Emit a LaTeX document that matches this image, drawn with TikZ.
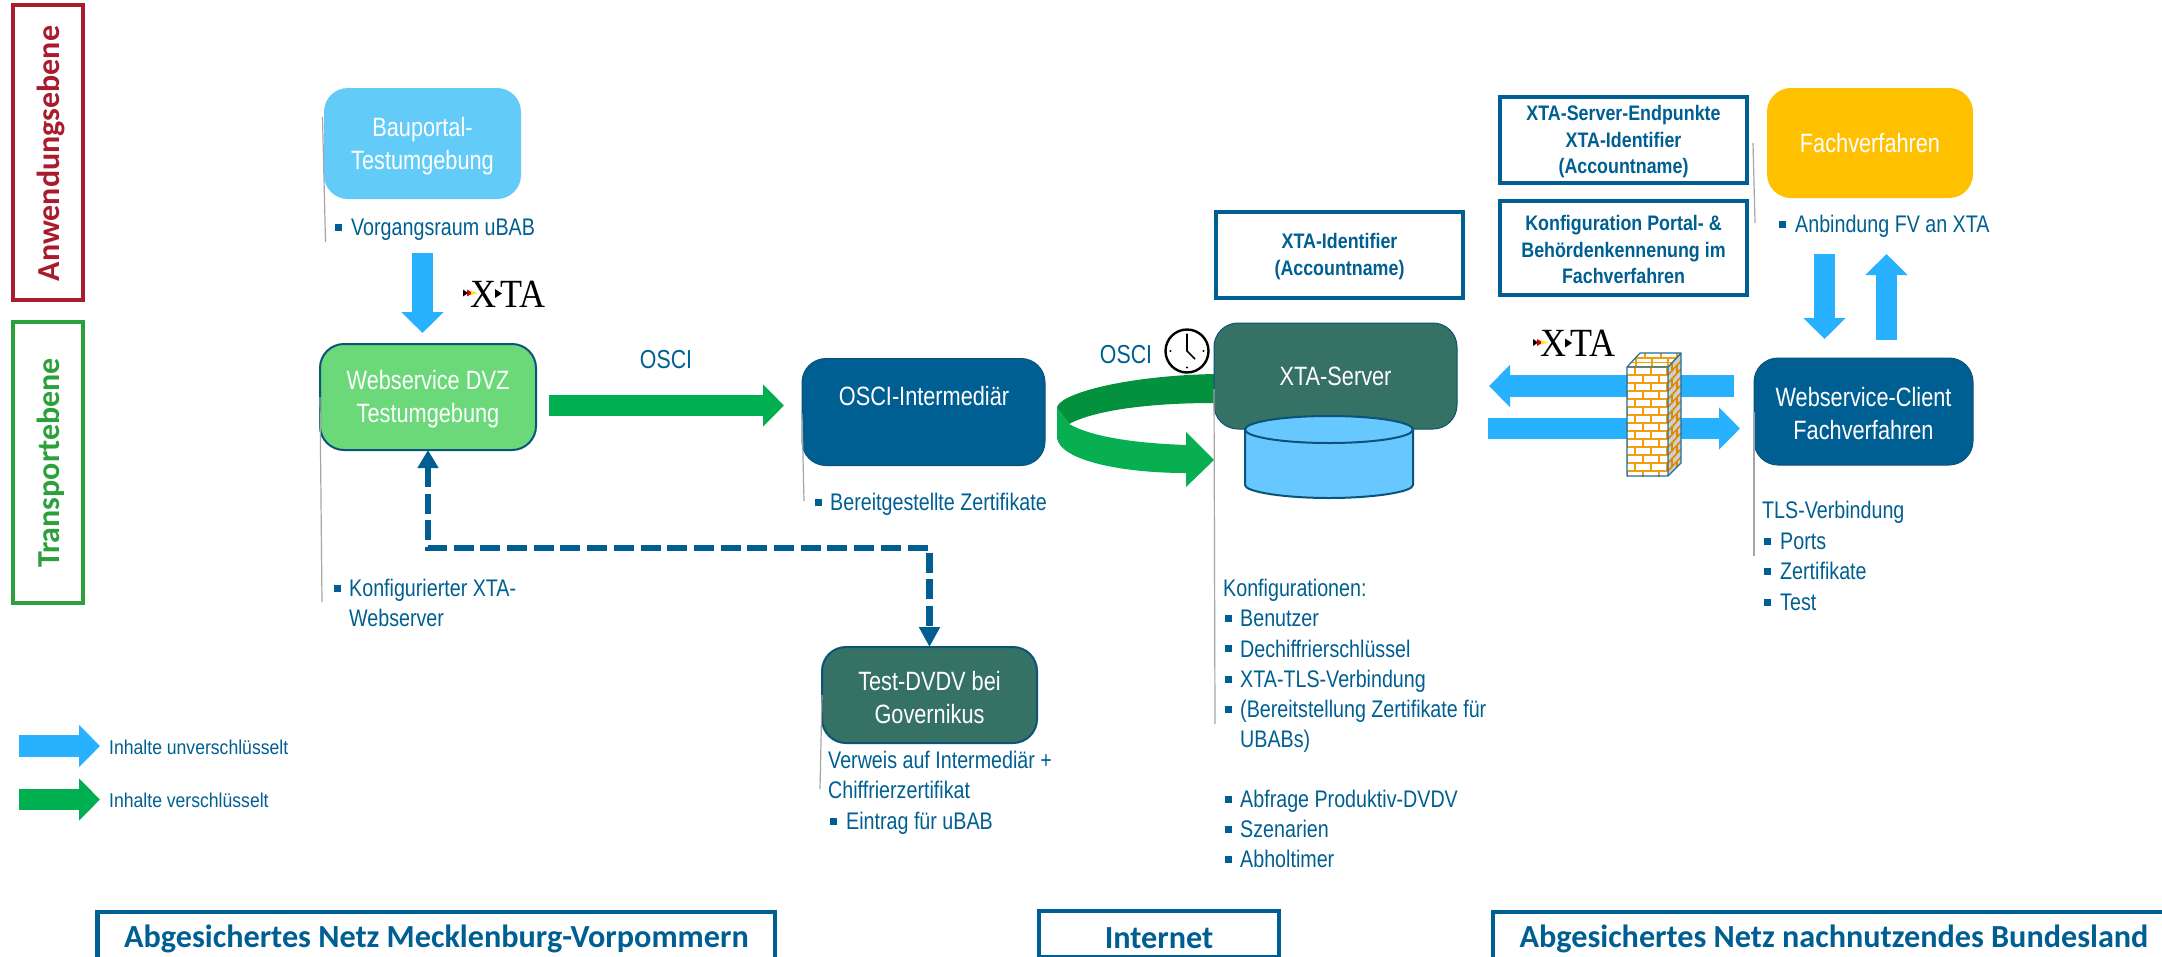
\documentclass[tikz,border=0pt]{standalone}
\usepackage{fontspec}
\usetikzlibrary{arrows.meta,calc}
\setmainfont{Liberation Sans}
\newfontfamily\bodyf[FakeStretch=0.82]{Liberation Sans}
\newfontfamily\labf[FakeStretch=0.85]{Liberation Sans}
\newfontfamily\legf[FakeStretch=0.88]{Liberation Sans}
\newfontfamily\calb{Carlito}
\newfontfamily\xtaf[FakeStretch=0.9]{Liberation Serif}
\definecolor{navy}{HTML}{005F92}
\definecolor{edgeblue}{HTML}{0B5378}
\definecolor{teal}{HTML}{357165}
\definecolor{skyb}{HTML}{63CBF8}
\definecolor{leaf}{HTML}{6BD97A}
\definecolor{amber}{HTML}{FFC000}
\definecolor{arrowblue}{HTML}{28B1FF}
\definecolor{arrowgreen}{HTML}{00B050}
\definecolor{darkgreen}{HTML}{04913E}
\definecolor{lightgreen}{HTML}{07AF50}
\definecolor{cylblue}{HTML}{66C8FF}
\definecolor{calred}{HTML}{A91C2E}
\definecolor{calgreen}{HTML}{2CA03A}
\definecolor{greyline}{HTML}{A6A6A6}
\definecolor{brick}{HTML}{F59E0B}
\definecolor{brickd}{HTML}{D98A00}
\definecolor{wallgrey}{HTML}{CFCFCF}
\definecolor{walledge}{HTML}{1F6E9E}
\newcommand\boxfix{\rule{0pt}{23.5pt}}
\newcommand\notefix{\rule{0pt}{18.5pt}}
\tikzset{
  box/.style={rounded corners=24pt,inner sep=0pt,outer sep=0pt,align=center,text=white,
    font=\bodyf\fontsize{26.5}{33}\selectfont},
  notebox/.style={draw=navy,line width=3.5pt,fill=white,inner sep=0pt,outer sep=0pt,align=center,text=navy,
    font=\labf\bfseries\fontsize{21}{26.5}\selectfont},
  netbox/.style={draw=navy,line width=4.5pt,fill=white,inner sep=0pt,outer sep=0pt},
  nettext/.style={inner sep=0pt,text=navy,font=\calb\bfseries\fontsize{32.2}{36}\selectfont},
  levelbox/.style={line width=4pt,fill=white,inner sep=0pt,outer sep=0pt},
  leveltext/.style={inner sep=0pt,rotate=90,font=\calb\bfseries\fontsize{32}{36}\selectfont},
  bluearrow/.style={draw=arrowblue,line width=21.5pt,-{Triangle[length=21pt,width=41pt]}},
  greenarrow/.style={draw=arrowgreen,line width=21.5pt,-{Triangle[length=21pt,width=41pt]}},
  dashconn/.style={draw=navy,line width=6.5pt,dash pattern=on 20pt off 6.7pt,{Triangle[length=18pt,width=20pt]}-{Triangle[length=20pt,width=20pt]}},
  callout/.style={draw=greyline,line width=1.2pt},
  bodytext/.style={inner sep=0pt,anchor=base west,text=navy,font=\bodyf\fontsize{24}{30}\selectfont},
  legendtext/.style={inner sep=0pt,anchor=west,text=navy,font=\legf\fontsize{20}{24}\selectfont},
  osci/.style={inner sep=0pt,text=navy,font=\bodyf\fontsize{26}{30}\selectfont},
  bulletmark/.style={fill=navy,inner sep=0pt,minimum size=7pt},
  pics/xtalogo/.style={code={
    \fill[black] (0,9.5) -- (5,13) -- (0,16.5) -- cycle;
    \fill[red!80!black] (4,9.5) -- (10,13) -- (4,16.5) -- cycle;
    \fill[yellow!90!orange] (8,11) -- (15,13) -- (8,15) -- cycle;
    \node[inner sep=0pt,anchor=base,font=\xtaf\fontsize{40}{40}\selectfont] (-x) at (20,27) {X};
    \fill[black] (32,9) -- (39,13.5) -- (32,18) -- cycle;
    \node[inner sep=0pt,anchor=base,font=\xtaf\fontsize{40}{40}\selectfont] (-t) at (60,27) {TA};
  }}
}
% name, bullet x, text x, centre y, text
\newcommand\bulleted[5]{%
  \node[bulletmark] (#1m) at (#2,#4) {};
  \node[bodytext] (#1) at (#3,#4+8.5) {#5};
}
\begin{document}
\begin{tikzpicture}[x=1pt,y=-1pt]
\path[use as bounding box,clip] (0,0) rectangle (2162,956);
\fill[white] (0,0) rectangle (2162,956);

% level boxes
\node[levelbox,draw=calred,minimum width=70pt,minimum height=295pt] (lvlapp) at (48,152.5) {};
\node[leveltext,text=calred] (lvlapptext) at (51,153.5) {Anwendungsebene};
\node[levelbox,draw=calgreen,minimum width=70pt,minimum height=281pt] (lvltra) at (48,462.5) {};
\node[leveltext,text=calgreen] (lvltratext) at (51,463) {Transportebene};

% curved OSCI arrow
\fill[darkgreen] (1214,374) .. controls (1120,376) and (1057,395) .. (1057,408) -- (1069,424)
  .. controls (1095,410) and (1150,403) .. (1214,403) -- cycle;
\fill[lightgreen] (1057,408) -- (1057,438) .. controls (1060,460) and (1120,473) .. (1186,473)
  -- (1186,487) -- (1214,460) -- (1186,432) -- (1186,445)
  .. controls (1130,443) and (1090,436) .. (1069,424) -- cycle;

% main boxes
\node[box,fill=skyb,minimum width=197pt,minimum height=111pt] (bau) at (422.5,143.5) {\boxfix Bauportal-\\Testumgebung};
\node[box,fill=leaf,draw=edgeblue,line width=2pt,minimum width=216pt,minimum height=106pt] (dvz) at (428,397) {\boxfix Webservice DVZ\\Testumgebung};
\node[box,fill=navy,draw=edgeblue,line width=1pt,minimum width=243pt,minimum height=107pt] (intermed) at (923.5,412) {};
\node[box,inner sep=0pt] (intermedtext) at (924,396) {OSCI-Intermediär};
\node[box,fill=teal,draw=edgeblue,line width=2pt,minimum width=215pt,minimum height=96pt] (test) at (929.5,695) {\boxfix Test-DVDV bei\\Governikus};
\node[box,fill=teal,draw=edgeblue,line width=1pt,minimum width=243pt,minimum height=106pt] (server) at (1335.5,376) {XTA-Server};
\node[box,fill=amber,minimum width=206pt,minimum height=110pt] (fach) at (1870,143) {Fachverfahren};
\node[box,fill=navy,draw=edgeblue,line width=1pt,minimum width=219pt,minimum height=107pt] (client) at (1863.5,411.5) {\boxfix Webservice-Client\\Fachverfahren};

% cylinder
\draw[fill=cylblue,draw=edgeblue,line width=2pt] (1245,429.5) -- (1245,485)
  .. controls (1245,492) and (1285,498) .. (1329,498) .. controls (1373,498) and (1413,492) .. (1413,485)
  -- (1413,429.5);
\draw[fill=cylblue,draw=edgeblue,line width=2pt] (1329,429.5) ellipse [x radius=84,y radius=13.5];

% notes
\node[notebox,minimum width=247pt,minimum height=86pt] (noteid) at (1339.5,255) {\notefix XTA-Identifier\\(Accountname)};
\node[notebox,minimum width=247pt,minimum height=86pt] (noteend) at (1623.5,140) {\notefix XTA-Server-Endpunkte\\XTA-Identifier\\(Accountname)};
\node[notebox,minimum width=247pt,minimum height=94pt] (noteconf) at (1623.5,248) {\notefix Konfiguration Portal- \&\\Behördenkennenung im\\Fachverfahren};

% arrows
\draw[bluearrow,shorten <=54pt,shorten >=11pt] (bau.south) -- (bau.south |- dvz.north);
\draw[greenarrow,shorten <=13pt,shorten >=18pt] ([yshift=-8.5pt]dvz.east) -- ([yshift=6.5pt]intermed.west);
\draw[dashconn] (dvz.south) -- (dvz.south |- 0,548) -- (test.north |- 0,548) -- (test.north);
\draw[bluearrow,shorten <=20pt,shorten >=32pt] ([yshift=25.5pt]client.west) -- ([yshift=-10pt]server.east);
\draw[bluearrow,shorten <=31pt,shorten >=14pt] ([yshift=-52.5pt]server.east) -- ([yshift=-17pt]client.west);
\draw[bluearrow,shorten <=56pt,shorten >=19pt] ([xshift=-45.5pt]fach.south) -- ([xshift=-39pt]client.north);
\draw[bluearrow,shorten <=18pt,shorten >=56pt] ([xshift=23pt]client.north) -- ([xshift=16.5pt]fach.south);

% firewall
\fill[white] (1627,367) rectangle (1668,476);
\begin{scope}
  \clip (1627,367) rectangle (1668,476);
  \foreach \r in {0,...,13}{
    \draw[brick,line width=1.8pt] (1627,367+8*\r) -- (1668,367+8*\r);
    \pgfmathsetmacro\off{mod(\r,2)==0 ? 8 : 0}
    \foreach \k in {-1,...,3}{
      \draw[brick,line width=1.8pt] (1627+\off+16*\k,367+8*\r) -- (1627+\off+16*\k,375+8*\r);
    }
  }
\end{scope}
\fill[wallgrey] (1668,367) -- (1681,353) -- (1681,463) -- (1668,476) -- cycle;
\begin{scope}
  \clip (1668,367) -- (1681,353) -- (1681,463) -- (1668,476) -- cycle;
  \foreach \r in {-1,...,13}{
    \draw[brickd,line width=1.6pt] (1668,367+8*\r) -- (1681,353+8*\r);
  }
  \foreach \r in {-1,...,13}{
    \pgfmathsetmacro\off{mod(\r,2)==0 ? 4 : 9}
    \draw[brickd,line width=1.6pt] (1668+\off,367+8*\r-\off*14/13) -- (1668+\off,375+8*\r-\off*14/13);
  }
\end{scope}
\fill[white] (1627,367) -- (1640,353) -- (1681,353) -- (1668,367) -- cycle;
\begin{scope}
  \clip (1627,367) -- (1640,353) -- (1681,353) -- (1668,367) -- cycle;
  \foreach \yy in {358,362.5,367}{
    \draw[brick,line width=1.4pt] (1625,\yy) -- (1685,\yy);
  }
  \foreach \xx in {1645,1661,1677}{\draw[brick,line width=1.4pt] (\xx,353) -- (\xx,358);}
  \foreach \xx in {1636,1652,1668}{\draw[brick,line width=1.4pt] (\xx,358) -- (\xx,367);}
\end{scope}
\draw[walledge,line width=1.2pt,line join=round] (1627,367) rectangle (1668,476)
  (1627,367) -- (1640,353) -- (1681,353) -- (1668,367)
  (1681,353) -- (1681,463) -- (1668,476);

% logos
\pic (logoa) at (463,280) {xtalogo};
\pic (logob) at (1533,329.5) {xtalogo};

% clock
\draw[fill=white,draw=black,line width=2.4pt] (1187,351) circle [radius=21.5];
\draw[black,line width=1.6pt] (1187,335) -- (1187,351) -- (1195,359);
\foreach \a in {0,90,180,270}{\fill[black] ($(1187,351)+(\a:16.5)$) circle [radius=1.1];}

% OSCI
\node[osci] (oscia) at (666,360) {OSCI};
\node[osci] (oscib) at (1126,355) {OSCI};

% call-out rules
\draw[callout] (322.5,117) -- (325.5,242);
\draw[callout] (320,397) -- (322,602);
\draw[callout] (802,414) -- (804,501);
\draw[callout] (1214,389) -- (1215,724);
\draw[callout] (1754,412) -- (1754,556);
\draw[callout] (1753,143) -- (1755,223);
\draw[callout] (822,695) -- (820,789);

% body texts
\bulleted{tvorg}{338}{351}{227}{Vorgangsraum uBAB}
\bulleted{tkonf}{337}{349}{588}{Konfigurierter XTA-}
\node[bodytext] (tweb) at (349,626.5) {Webserver};
\bulleted{tber}{818}{830}{502}{Bereitgestellte Zertifikate}
\node[bodytext] (tverw) at (828,768.5) {Verweis auf Intermediär +};
\node[bodytext] (tchif) at (828,798.5) {Chiffrierzertifikat};
\bulleted{tein}{833}{846}{821}{Eintrag für uBAB}
\node[bodytext] (tkon) at (1223,596.5) {Konfigurationen:};
\bulleted{tben}{1228}{1240}{618}{Benutzer}
\bulleted{tdec}{1228}{1240}{648.5}{Dechiffrierschlüssel}
\bulleted{ttls}{1228}{1240}{679}{XTA-TLS-Verbindung}
\bulleted{tbere}{1228}{1240}{709}{(Bereitstellung Zertifikate für}
\node[bodytext] (tubab) at (1240,747.5) {UBABs)};
\bulleted{tabf}{1228}{1240}{799}{Abfrage Produktiv-DVDV}
\bulleted{tsze}{1228}{1240}{829}{Szenarien}
\bulleted{tabh}{1228}{1240}{859}{Abholtimer}
\bulleted{tanb}{1782}{1795}{224}{Anbindung FV an XTA}
\node[bodytext] (ttlsv) at (1762,518.5) {TLS-Verbindung};
\bulleted{tpor}{1767}{1780}{541}{Ports}
\bulleted{tzer}{1767}{1780}{571}{Zertifikate}
\bulleted{ttes}{1767}{1780}{602}{Test}

% legend
\coordinate (lega) at (19,746);
\coordinate (legb) at (100,746);
\coordinate (legc) at (19,799.5);
\coordinate (legd) at (100,799.5);
\draw[bluearrow] (lega) -- (legb);
\draw[greenarrow] (legc) -- (legd);
\node[legendtext] (legta) at (109,747) {Inhalte unverschlüsselt};
\node[legendtext] (legtb) at (109,800) {Inhalte verschlüsselt};

% network boxes
\node[netbox,minimum width=677.5pt,minimum height=50pt] (netmv) at (436.25,937) {};
\node[nettext] (netmvt) at (436.5,938.5) {Abgesichertes Netz Mecklenburg-Vorpommern};
\node[netbox,minimum width=240pt,minimum height=46pt] (netin) at (1159,934) {};
\node[nettext] (netint) at (1159,938.5) {Internet};
\node[netbox,minimum width=682pt,minimum height=50pt] (netbl) at (1834,937) {};
\node[nettext] (netblt) at (1834,938.5) {Abgesichertes Netz nachnutzendes Bundesland};
\end{tikzpicture}
\end{document}
